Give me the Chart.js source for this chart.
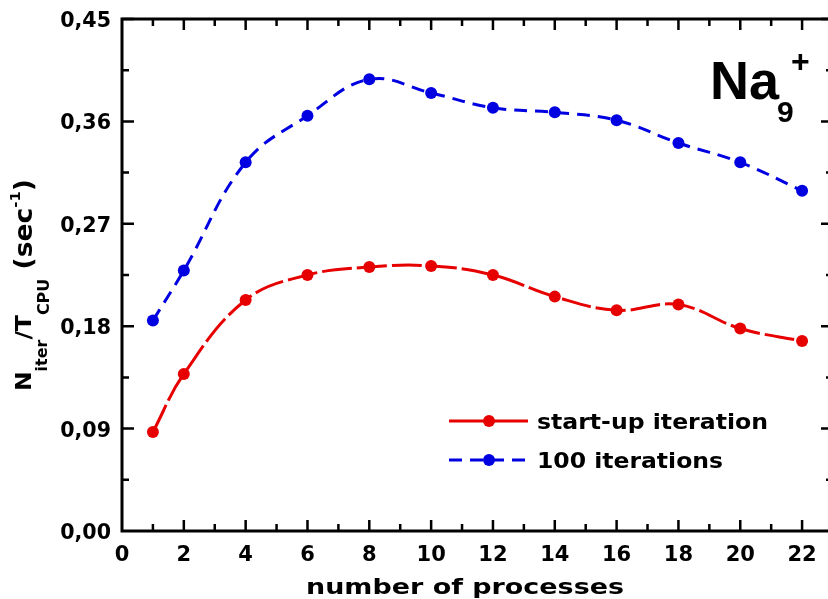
<!DOCTYPE html>
<html lang="en">
<head>
    <meta charset="UTF-8">
    <title>Na9+ iterations per CPU second</title>
    <script src="https://cdn.jsdelivr.net/npm/chart.js"></script>
    <style>
        html, body { margin: 0; padding: 0; background: #fff; overflow: hidden; }
        canvas { display: block; }
    </style>
</head>
<body>
    <canvas id="chart" width="842" height="599"></canvas>

    <script>
        // values
        const processes = [1, 2, 4, 6, 8, 10, 12, 14, 16, 18, 20, 22];
        const startUp = [0.087, 0.138, 0.203, 0.225, 0.232, 0.233, 0.225, 0.206, 0.194, 0.199, 0.178, 0.167];
        const hundredIter = [0.185, 0.229, 0.324, 0.365, 0.397, 0.385, 0.372, 0.368, 0.361, 0.341, 0.324, 0.299];
        const xTicks = [0, 2, 4, 6, 8, 10, 12, 14, 16, 18, 20, 22];
        const yTicks = [0, 0.09, 0.18, 0.27, 0.36, 0.45];

        const RED = '#e60000';
        const BLUE = '#0000e0';
        const FONT = '"DejaVu Sans", sans-serif';
        const NA_FONT = '"Liberation Sans", Arial, sans-serif';

        function txt(ctx, s, x, y, size, align, sx, family) {
            ctx.save();
            ctx.translate(x, y);
            ctx.scale(sx, 1);
            ctx.font = 'bold ' + size + 'px ' + (family || FONT);
            ctx.textAlign = align;
            ctx.textBaseline = 'alphabetic';
            ctx.fillStyle = '#000';
            ctx.fillText(s, 0, 0);
            ctx.restore();
        }

        // stretch the text horizontally so it spans the given width
        function fitScale(ctx, s, size, width) {
            ctx.font = 'bold ' + size + 'px ' + FONT;
            return width / ctx.measureText(s).width;
        }

        function runWidth(ctx, parts) {
            let w = 0;
            parts.forEach(p => {
                ctx.font = 'bold ' + p.size + 'px ' + FONT;
                w += ctx.measureText(p.t).width;
            });
            return w;
        }
        function drawRun(ctx, parts, x, y, sx) {
            parts.forEach(p => {
                txt(ctx, p.t, x, y + p.dy, p.size, 'left', sx);
                ctx.font = 'bold ' + p.size + 'px ' + FONT;
                x += ctx.measureText(p.t).width * sx;
            });
        }

        const decorations = {
            id: 'decorations',
            afterDraw(chart) {
                const ctx = chart.ctx;
                const a = chart.chartArea;
                const xs = chart.scales.x, ys = chart.scales.y;
                ctx.save();
                ctx.strokeStyle = '#000';
                ctx.lineCap = 'butt';

                // frame
                ctx.lineWidth = 3;
                ctx.beginPath();
                ctx.moveTo(a.left, a.top); ctx.lineTo(a.right, a.top);
                ctx.moveTo(a.left, a.top - 1.5); ctx.lineTo(a.left, a.bottom + 1.5);
                ctx.moveTo(a.left, a.bottom); ctx.lineTo(a.right, a.bottom);
                ctx.moveTo(a.right, a.top - 1.5); ctx.lineTo(a.right, a.bottom + 1.5);
                ctx.stroke();

                // inward ticks on all four sides
                ctx.lineWidth = 2.5;
                ctx.beginPath();
                for (let v = 1; v <= 23; v++) {
                    const len = v % 2 === 0 ? 11 : 7;
                    const px = xs.getPixelForValue(v);
                    ctx.moveTo(px, a.bottom); ctx.lineTo(px, a.bottom - len);
                    ctx.moveTo(px, a.top); ctx.lineTo(px, a.top + len);
                }
                for (let i = 1; i <= 10; i++) {
                    const v = i * 0.045;
                    const len = i % 2 === 0 ? 12 : 7;
                    const py = ys.getPixelForValue(v);
                    ctx.moveTo(a.left, py); ctx.lineTo(a.left + len, py);
                    ctx.moveTo(a.right, py); ctx.lineTo(a.right - len, py);
                }
                ctx.stroke();

                // tick labels
                yTicks.forEach(v => {
                    txt(ctx, v.toFixed(2).replace('.', ','), 111, ys.getPixelForValue(v) + 8, 21, 'right', 0.98);
                });
                xTicks.forEach(v => {
                    txt(ctx, String(v), xs.getPixelForValue(v), 561, 21, 'center', 1.0);
                });

                // x title
                const xt = 'number of processes';
                txt(ctx, xt, 465, 594, 22, 'center', fitScale(ctx, xt, 22, 318));

                // y title, rotated
                const parts = [
                    { t: 'N', size: 22, dy: 0 },
                    { t: 'iter', size: 15, dy: 16 },
                    { t: '/T', size: 22, dy: 0 },
                    { t: 'CPU', size: 15, dy: 18 },
                    { t: ' (sec', size: 25, dy: 1 },
                    { t: '-1', size: 14, dy: -11 },
                    { t: ')', size: 25, dy: 1 }
                ];
                const sxT = 212 / runWidth(ctx, parts);
                ctx.save();
                ctx.translate(31, 285);
                ctx.rotate(-Math.PI / 2);
                drawRun(ctx, parts, -106, 0, sxT);
                ctx.restore();

                // Na9+ label
                txt(ctx, 'Na', 710, 99, 54, 'left', 1.0, NA_FONT);
                txt(ctx, '9', 777, 122, 30, 'left', 1.0, NA_FONT);
                txt(ctx, '+', 791, 72, 32, 'left', 1.0, NA_FONT);

                // legend
                const legend = [
                    { label: 'start-up iteration', color: RED, dash: [], y: 421, w: 231 },
                    { label: '100 iterations', color: BLUE, dash: [13, 8], y: 460, w: 186 }
                ];
                legend.forEach(item => {
                    ctx.save();
                    ctx.strokeStyle = item.color;
                    ctx.lineWidth = 3;
                    ctx.setLineDash(item.dash);
                    ctx.beginPath();
                    ctx.moveTo(449, item.y); ctx.lineTo(528, item.y);
                    ctx.stroke();
                    ctx.setLineDash([]);
                    ctx.fillStyle = item.color;
                    ctx.beginPath();
                    ctx.arc(489, item.y, 6, 0, Math.PI * 2);
                    ctx.fill();
                    ctx.restore();
                    txt(ctx, item.label, 537, item.y + 8, 21, 'left', fitScale(ctx, item.label, 21, item.w));
                });

                ctx.restore();
            }
        };

        const ctx = document.getElementById('chart').getContext('2d');
        new Chart(ctx, {
            type: 'line',
            data: {
                datasets: [
                    {
                        label: 'start-up iteration',
                        data: processes.map((x, i) => ({ x: x, y: startUp[i] })),
                        borderColor: RED,
                        backgroundColor: RED,
                        borderWidth: 3,
                        borderDash: [30, 5],
                        pointRadius: 6,
                        pointBorderWidth: 0,
                        tension: 0.4
                    },
                    {
                        label: '100 iterations',
                        data: processes.map((x, i) => ({ x: x, y: hundredIter[i] })),
                        borderColor: BLUE,
                        backgroundColor: BLUE,
                        borderWidth: 3,
                        borderDash: [13, 8],
                        pointRadius: 6,
                        pointBorderWidth: 0,
                        tension: 0.4
                    }
                ]
            },
            options: {
                responsive: false,
                animation: false,
                layout: { padding: { left: 0, top: 19, right: 9, bottom: 0 } },
                plugins: {
                    legend: { display: false },
                    tooltip: { enabled: false }
                },
                scales: {
                    x: {
                        type: 'linear',
                        min: 0,
                        max: 23,
                        grid: { display: false, drawTicks: false },
                        border: { display: false },
                        ticks: { display: false },
                        afterFit: scale => { scale.height = 68; }
                    },
                    y: {
                        min: 0,
                        max: 0.45,
                        grid: { display: false, drawTicks: false },
                        border: { display: false },
                        ticks: { display: false },
                        afterFit: scale => { scale.width = 122; }
                    }
                }
            },
            plugins: [decorations]
        });
    </script>
</body>
</html>
